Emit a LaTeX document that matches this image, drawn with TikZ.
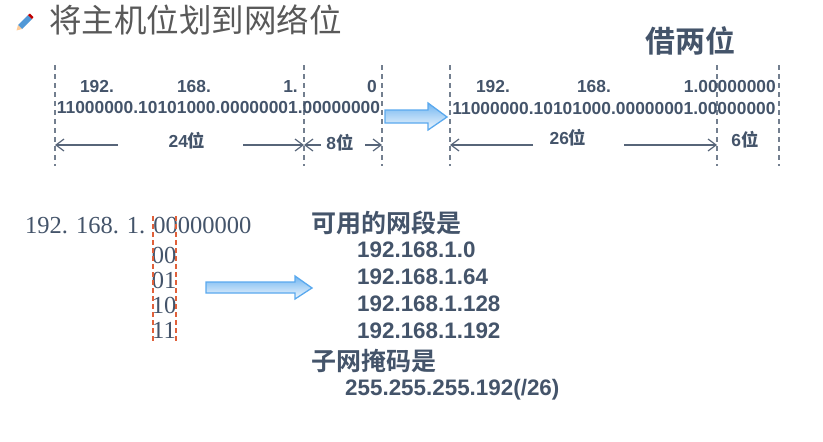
\documentclass[tikz,border=0pt]{standalone}
\usepackage{fontspec}
\setmainfont{Liberation Serif}
\newfontfamily\arialfont[BoldFont=Liberation Sans Bold]{Liberation Sans}
\newfontfamily\cjk{Noto Sans CJK SC}
\newfontfamily\cjkbold{Noto Sans CJK SC Bold}
\usetikzlibrary{arrows.meta}

\definecolor{slate}{HTML}{44546A}
\definecolor{titlegrey}{HTML}{595959}
\definecolor{cutred}{HTML}{E0603A}
\definecolor{arrowblue}{HTML}{5AA9EE}

\newcommand{\wei}{{\cjkbold 位}}

\tikzset{
  cutline/.style={dashed, dash pattern=on 5pt off 4pt, line width=1.3pt, color=slate!75},
  cutred/.style={dashed, dash pattern=on 5pt off 3pt, line width=1.2pt, color=cutred},
  dimarrow/.style={-{Straight Barb[length=8pt,width=12pt]}, line width=1.2pt, color=slate!90},
  bittext/.style={font=\arialfont\bfseries\fontsize{17.4}{17.4}\selectfont, color=slate, inner sep=0pt},
  nettext/.style={font=\arialfont\bfseries\fontsize{22.4}{22.4}\selectfont, color=slate, anchor=west, inner sep=0pt},
  headtext/.style={font=\cjkbold\fontsize{25}{25}\selectfont, color=slate, anchor=west, inner sep=0pt},
  serifbits/.style={font=\fontsize{24.5}{24.5}\selectfont, color=slate, inner sep=0pt},
  blockarrow/.style={draw=arrowblue, line width=1.3pt, top color=arrowblue!85, bottom color=arrowblue!8},
}

\begin{document}
\begin{tikzpicture}[x=1pt, y=-1pt]
  \useasboundingbox (0,0) rectangle (823,442);

  % Pencil
  \fill[arrowblue!90!black] (18,25) -- (28,15) -- (32,19) -- (22,29) -- cycle;
  \fill[red!75!black] (28,15) -- (30,13.5) -- (33.5,17) -- (32,19) -- cycle;
  \fill[orange!40] (18,25) -- (22,29) -- (16.5,30.5) -- cycle;

  % Title
  \node[anchor=west, inner sep=0pt, color=titlegrey, font=\cjk\fontsize{32.5}{32.5}\selectfont] (title) at (49,19.5) {将主机位划到网络位};
  \node[inner sep=0pt, color=slate, font=\cjkbold\fontsize{30}{30}\selectfont] (borrow) at (690,41) {借两位};

  % Dashed cuts
  \foreach \name/\x in {cutA/55, cutB/304, cutC/382, cutD/450, cutE/717, cutF/779} {
    \coordinate (\name top) at (\x,65);
    \coordinate (\name bot) at (\x,166);
    \draw[cutline] (\name top) -- (\name bot);
  }

  % Left address
  \node[bittext] (leftA) at (97,87) {192.};
  \node[bittext] (leftB) at (194,87) {168.};
  \node[bittext, anchor=east] (leftC) at (298,87) {1.};
  \node[bittext] (leftD) at (372,87) {0};
  \node[bittext] (leftbits) at (218.5,108) {11000000.10101000.00000001.00000000};

  % Right address
  \node[bittext] (rightA) at (493,87) {192.};
  \node[bittext] (rightB) at (594,87) {168.};
  \node[bittext, anchor=east] (rightC) at (776,87) {1.00000000};
  \node[bittext] (rightbits) at (614,109) {11000000.10101000.00000001.00000000};

  % Lengths
  \node[bittext] (len24) at (187,141) {24\wei};
  \node[bittext] (len8) at (340,143) {8\wei};
  \node[bittext] (len26) at (568,138) {26\wei};
  \node[bittext] (len6) at (745,140) {6\wei};

  \coordinate (tipA) at (55,145);
  \coordinate (tailA) at (118,145);
  \coordinate (tailB) at (243,145);
  \coordinate (tipB) at (304,145);
  \coordinate (tailC) at (321,145);
  \coordinate (tailD) at (365,145);
  \coordinate (tipC) at (382,145);
  \coordinate (tipD) at (450,145);
  \coordinate (tailE) at (533,145);
  \coordinate (tailF) at (624,145);
  \coordinate (tipE) at (717,145);
  \draw[dimarrow] (tailA) -- (tipA);
  \draw[dimarrow] (tailB) -- (tipB);
  \draw[dimarrow] (tailC) -- (tipB);
  \draw[dimarrow] (tailD) -- (tipC);
  \draw[dimarrow] (tailE) -- (tipD);
  \draw[dimarrow] (tailF) -- (tipE);

  % Block arrows
  \draw[blockarrow] (385,110) -- (428,110) -- (428,103) -- (447,117) -- (428,130) -- (428,123) -- (385,123) -- cycle;
  \draw[blockarrow] (206,282) -- (295,282) -- (295,276) -- (312,288) -- (295,299) -- (295,293) -- (206,293) -- cycle;

  % Subnet bits
  \node[serifbits, anchor=west] (addr) at (25,226) {192.\hspace{8pt}168.\hspace{8pt}1.\hspace{8pt}00000000};
  \node[serifbits] (bitsA) at (164,255) {00};
  \node[serifbits] (bitsB) at (164,280) {01};
  \node[serifbits] (bitsC) at (164,305) {10};
  \node[serifbits] (bitsD) at (164,330) {11};
  \coordinate (redAtop) at (153,216);
  \coordinate (redAbot) at (153,343);
  \coordinate (redBtop) at (176,216);
  \coordinate (redBbot) at (176,343);
  \draw[cutred] (redAtop) -- (redAbot);
  \draw[cutred] (redBtop) -- (redBbot);

  % Networks and mask
  \node[headtext] (nethead) at (311,223) {可用的网段是};
  \node[nettext] (netA) at (357,250) {192.168.1.0};
  \node[nettext] (netB) at (357,277) {192.168.1.64};
  \node[nettext] (netC) at (357,304) {192.168.1.128};
  \node[nettext] (netD) at (357,331) {192.168.1.192};
  \node[headtext] (maskhead) at (311,361) {子网掩码是};
  \node[nettext] (mask) at (345,389.5) {255.255.255.192(/26)};
\end{tikzpicture}
\end{document}
